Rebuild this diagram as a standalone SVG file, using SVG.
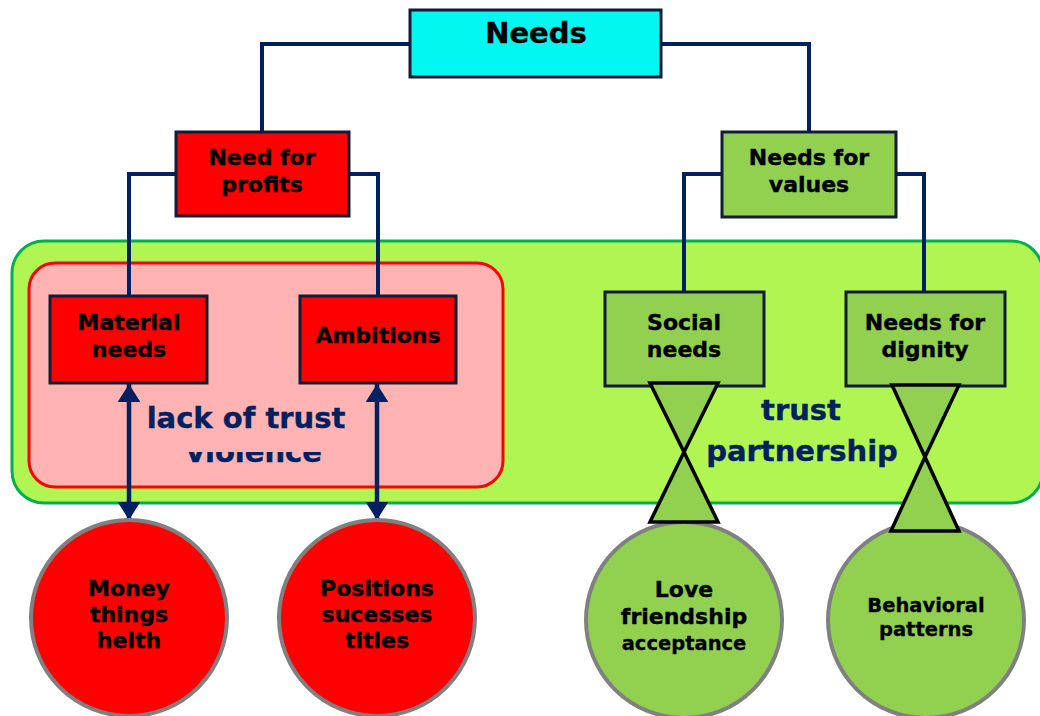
<svg xmlns="http://www.w3.org/2000/svg" width="1040" height="716" viewBox="0 0 1040 716">
<style>
text{font-family:"DejaVu Sans","Liberation Sans",sans-serif;font-weight:bold;text-anchor:middle}
.box{stroke:#111d36;stroke-width:3}
.red{fill:#ff0000}
.grn{fill:#92d050}
.conn{fill:none;stroke:#002060;stroke-width:4}
.circ{stroke:#808080;stroke-width:4}
.hg{fill:#92d050;stroke:#000;stroke-width:3.5;stroke-linejoin:miter}
.bt{font-size:22px;fill:#000;stroke:#000;stroke-width:0.4}
.ct{font-size:22px;fill:#000;stroke:#000;stroke-width:0.4}
.st{font-size:19.5px;fill:#000;stroke:#000;stroke-width:0.3}
.lbl{font-size:29px;fill:#002060;stroke:#002060;stroke-width:0.4}
</style>
<defs>
<marker id="ah" viewBox="0 0 8 10" refX="8" refY="5" markerWidth="4" markerHeight="5" orient="auto-start-reverse" markerUnits="strokeWidth">
<path d="M0,0 L8,5 L0,10 z" fill="#002060"/>
</marker>
</defs>
<rect width="1040" height="716" fill="#fff"/>
<g id="bg-trust">
<rect x="12" y="241" width="1031" height="262" rx="32" fill="#b0f552" stroke="#00b050" stroke-width="3"/>
</g>
<g id="bg-lack">
<rect x="29" y="263" width="474" height="224" rx="26" fill="#ffb3b3" stroke="#ff0000" stroke-width="3"/>
</g>
<g id="labels-bg">
<text class="lbl" x="254" y="462">violence</text>
<rect x="130" y="392" width="235" height="60" fill="#ffb3b3"/>
<text class="lbl" x="246" y="428">lack of trust</text>
<text class="lbl" x="801" y="420">trust</text>
<text class="lbl" x="802" y="461">partnership</text>
</g>
<g id="connectors">
<path class="conn" d="M410,44 H262 V132"/>
<path class="conn" d="M661,44 H809 V132"/>
<path class="conn" d="M176,174 H129 V296"/>
<path class="conn" d="M349,174 H378 V296"/>
<path class="conn" d="M722,174 H684 V292"/>
<path class="conn" d="M896,174 H924 V292"/>
<line x1="129" y1="384" x2="129" y2="520" stroke="#002060" stroke-width="4.5" marker-start="url(#ah)" marker-end="url(#ah)"/>
<line x1="377" y1="384" x2="377" y2="520" stroke="#002060" stroke-width="4.5" marker-start="url(#ah)" marker-end="url(#ah)"/>
</g>
<g id="needs">
<rect class="box" x="410" y="10" width="251" height="67" fill="#00f8f0"/>
<text x="536" y="43" font-size="29" fill="#000" stroke="#000" stroke-width="0.4">Needs</text>
</g>
<g id="need-for-profits">
<rect class="box red" x="176" y="132" width="173" height="84"/>
<text class="bt" x="262" y="165">Need for</text>
<text class="bt" x="262" y="192">profits</text>
</g>
<g id="needs-for-values">
<rect class="box grn" x="722" y="132" width="174" height="85"/>
<text class="bt" x="809" y="165">Needs for</text>
<text class="bt" x="809" y="192">values</text>
</g>
<g id="material-needs">
<rect class="box red" x="50" y="296" width="157" height="87"/>
<text class="bt" x="129" y="330">Material</text>
<text class="bt" x="129" y="357">needs</text>
</g>
<g id="ambitions">
<rect class="box red" x="300" y="296" width="156" height="87"/>
<text class="bt" x="378" y="343">Ambitions</text>
</g>
<g id="social-needs">
<rect class="box grn" x="605" y="292" width="159" height="94"/>
<text class="bt" x="684" y="330">Social</text>
<text class="bt" x="684" y="357">needs</text>
</g>
<g id="needs-for-dignity">
<rect class="box grn" x="846" y="292" width="159" height="94"/>
<text class="bt" x="925" y="330">Needs for</text>
<text class="bt" x="925" y="357">dignity</text>
</g>
<g id="money">
<circle class="circ red" cx="129" cy="618" r="98"/>
<text class="ct" x="129" y="596">Money</text>
<text class="ct" x="129" y="622">things</text>
<text class="ct" x="129" y="648">helth</text>
</g>
<g id="positions">
<circle class="circ red" cx="377" cy="618" r="98"/>
<text class="ct" x="377" y="596">Positions</text>
<text class="ct" x="377" y="622">sucesses</text>
<text class="ct" x="377" y="648">titles</text>
</g>
<g id="love">
<circle class="circ grn" cx="684" cy="620" r="98"/>
<text class="ct" x="684" y="597">Love</text>
<text class="ct" x="684" y="624">friendship</text>
<text class="st" x="684" y="650">acceptance</text>
</g>
<g id="behavioral">
<circle class="circ grn" cx="926" cy="620" r="98"/>
<text class="st" x="926" y="612">Behavioral</text>
<text class="st" x="926" y="636">patterns</text>
</g>
<g id="hourglass-social">
<polygon class="hg" points="650,383 718,383 684,452"/>
<polygon class="hg" points="684,452 650,522 718,522"/>
</g>
<g id="hourglass-dignity">
<polygon class="hg" points="892,385 959,385 925,457"/>
<polygon class="hg" points="925,457 891,531 959,531"/>
</g>
</svg>
